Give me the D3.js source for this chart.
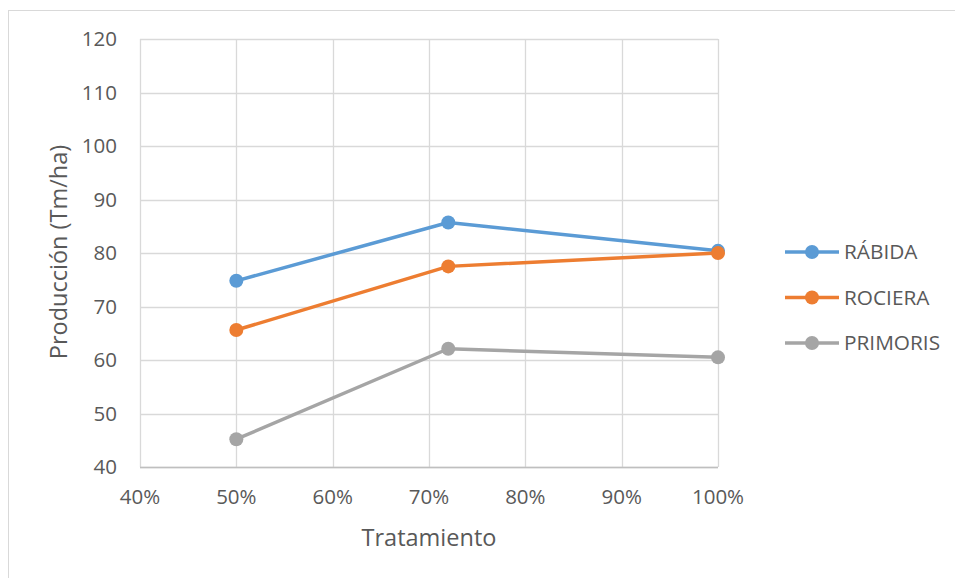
<!DOCTYPE html>
<html><head><meta charset="utf-8">
<script src="https://cdn.jsdelivr.net/npm/d3@7"></script>
<style>body{margin:0;background:#fff}svg{display:block}</style>
</head><body><svg id="c" width="955" height="578"></svg>
<script>
const treatments = [0.50, 0.72, 1.00];
const seriesNames = ["RÁBIDA", "ROCIERA", "PRIMORIS"];
const rabida = [74.8, 85.7, 80.4];
const rociera = [65.6, 77.5, 80.0];
const primoris = [45.2, 62.1, 60.5];
const colors = ["#5b9bd5", "#ed7d31", "#a5a5a5"];
const xTicks = [0.4, 0.5, 0.6, 0.7, 0.8, 0.9, 1.0];
const yTicks = [40, 50, 60, 70, 80, 90, 100, 110, 120];

const series = [rabida, rociera, primoris].map((v, i) => ({name: seriesNames[i], values: v, color: colors[i]}));
const svg = d3.select("#c");
const font = "'Open Sans', sans-serif";
const textColor = "#595959";

svg.append("rect").attr("x", 8.5).attr("y", 10.5).attr("width", 1000).attr("height", 1000)
  .attr("fill", "none").attr("stroke", "#d9d9d9").attr("stroke-width", 1);

const x = d3.scaleLinear().domain([0.4, 1.0]).range([140, 718]);
const y = d3.scaleLinear().domain([40, 120]).range([467, 39]);

const g = svg.append("g");
g.selectAll(".hg").data(yTicks).join("line")
  .attr("x1", x(0.4)).attr("x2", x(1.0))
  .attr("y1", d => Math.round(y(d)) + 0.5).attr("y2", d => Math.round(y(d)) + 0.5)
  .attr("stroke", "#d9d9d9").attr("stroke-width", 1.3);
g.selectAll(".vg").data(xTicks).join("line")
  .attr("x1", d => Math.round(x(d)) + 0.5).attr("x2", d => Math.round(x(d)) + 0.5)
  .attr("y1", y(120)).attr("y2", y(40))
  .attr("stroke", "#d9d9d9").attr("stroke-width", 1.3);
g.append("line").attr("x1", x(0.4)).attr("x2", x(1.0)).attr("y1", Math.round(y(40)) + 0.5).attr("y2", Math.round(y(40)) + 0.5)
  .attr("stroke", "#bfbfbf").attr("stroke-width", 1.3);

g.selectAll(".yl").data(yTicks).join("text")
  .attr("x", 117).attr("y", d => y(d)).attr("dy", "0.36em")
  .attr("text-anchor", "end").attr("font-family", font).attr("font-size", 20.5).attr("fill", textColor)
  .text(d => d);
const pct = d3.format(".0%");
g.selectAll(".xl").data(xTicks).join("text")
  .attr("x", d => x(d)).attr("y", 497).attr("dy", "0.36em")
  .attr("text-anchor", "middle").attr("font-family", font).attr("font-size", 20.5).attr("fill", textColor)
  .text(d => pct(d));

svg.append("text").attr("transform", "translate(59,252) rotate(-90)")
  .attr("text-anchor", "middle").attr("dy", "0.36em").attr("font-family", font).attr("font-size", 23.5).attr("fill", textColor)
  .text("Producción (Tm/ha)");
svg.append("text").attr("x", 429).attr("y", 538).attr("dy", "0.36em")
  .attr("text-anchor", "middle").attr("font-family", font).attr("font-size", 23.5).attr("fill", textColor)
  .text("Tratamiento");

const line = d3.line().x((d, i) => x(treatments[i])).y(d => y(d));
series.forEach(s => {
  g.append("path").attr("d", line(s.values)).attr("fill", "none")
    .attr("stroke", s.color).attr("stroke-width", 3.5).attr("stroke-linejoin", "round");
  g.selectAll(null).data(s.values).join("circle")
    .attr("cx", (d, i) => x(treatments[i])).attr("cy", d => y(d)).attr("r", 7)
    .attr("fill", s.color);
});

const leg = svg.append("g");
series.forEach((s, i) => {
  const ly = 252 + i * 45.5;
  leg.append("line").attr("x1", 785).attr("x2", 839).attr("y1", ly).attr("y2", ly)
    .attr("stroke", s.color).attr("stroke-width", 3.5);
  leg.append("circle").attr("cx", 812).attr("cy", ly).attr("r", 7).attr("fill", s.color);
  leg.append("text").attr("x", 844).attr("y", ly).attr("dy", "0.36em")
    .attr("font-family", font).attr("font-size", 20.8).attr("fill", textColor).text(s.name);
});
</script></body></html>
